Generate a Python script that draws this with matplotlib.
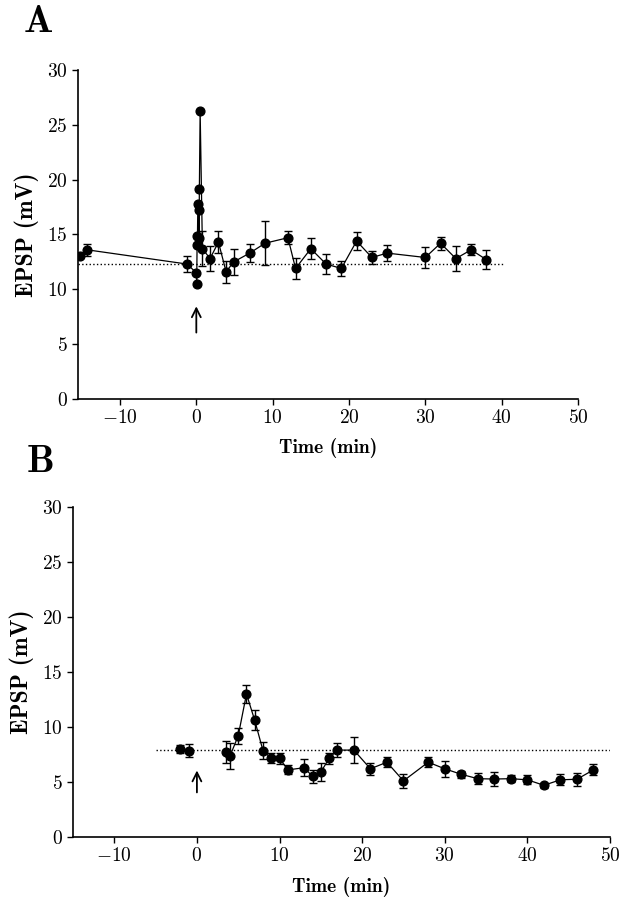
import matplotlib

matplotlib.use("Agg")
import matplotlib.pyplot as plt

plt.rcParams["font.family"] = ["cmr10", "DejaVu Serif"]
plt.rcParams["mathtext.fontset"] = "cm"
plt.rcParams["axes.formatter.use_mathtext"] = True
plt.rcParams["axes.unicode_minus"] = True

# Panel A: EPSP amplitude, time in min
a_time = [-15.3, -14.3, -1.2, 0.0, 0.05, 0.1, 0.15, 0.2, 0.3, 0.35, 0.4, 0.5, 0.8,
          1.8, 2.9, 3.9, 4.9, 7.0, 9.0, 12.0, 13.0, 15.0, 17.0, 19.0, 21.0, 23.0,
          25.0, 30.0, 32.0, 34.0, 36.0, 38.0]
a_epsp = [13.0, 13.6, 12.3, 11.5, 10.5, 14.0, 14.9, 17.8, 17.2, 14.7, 19.1, 26.3, 13.7,
          12.8, 14.3, 11.6, 12.5, 13.3, 14.2, 14.7, 11.9, 13.7, 12.3, 11.9, 14.4, 12.9,
          13.3, 12.9, 14.2, 12.8, 13.6, 12.7]
a_err = [0.0, 0.55, 0.7, 0.0, 0.0, 0.0, 0.0, 0.0, 0.0, 0.0, 0.0, 0.0, 1.6,
         1.15, 1.0, 1.0, 1.2, 0.85, 2.0, 0.6, 0.95, 0.95, 0.9, 0.65, 0.85, 0.55,
         0.7, 1.0, 0.6, 1.15, 0.5, 0.85]
a_baseline = 12.3

# Panel B
b_pre_time = [-2.0, -1.0]
b_pre_epsp = [8.0, 7.85]
b_pre_err = [0.4, 0.6]
b_time = [3.5, 4.0, 5.0, 6.0, 7.0, 8.0, 9.0, 10.0, 11.0, 13.0, 14.0, 15.0, 16.0,
          17.0, 19.0, 21.0, 23.0, 25.0, 28.0, 30.0, 32.0, 34.0, 36.0, 38.0, 40.0,
          42.0, 44.0, 46.0, 48.0]
b_epsp = [7.7, 7.35, 9.2, 13.0, 10.6, 7.85, 7.15, 7.15, 6.1, 6.3, 5.5, 5.9, 7.15,
          7.9, 7.9, 6.2, 6.8, 5.1, 6.8, 6.2, 5.7, 5.3, 5.27, 5.3, 5.2,
          4.7, 5.2, 5.25, 6.1]
b_err = [1.0, 1.2, 0.75, 0.8, 0.9, 0.75, 0.45, 0.5, 0.4, 0.8, 0.55, 0.8, 0.5,
         0.65, 1.2, 0.55, 0.45, 0.65, 0.45, 0.75, 0.3, 0.5, 0.65, 0.3, 0.4,
         0.25, 0.5, 0.6, 0.5]
b_baseline = 7.9

XTICKS = [-10, 0, 10, 20, 30, 40, 50]
YTICKS = [0, 5, 10, 15, 20, 25, 30]
BOLD = ["cmb10", "DejaVu Serif"]


def series(ax, t, y, err):
    ax.errorbar(t, y, yerr=err, fmt="-o", color="black", ms=6.3, lw=0.9,
                elinewidth=1.0, capsize=2.8, capthick=1.0, zorder=3)


def style(ax, xlim):
    ax.set_xlim(*xlim)
    ax.set_ylim(0, 30)
    ax.set_xticks(XTICKS)
    ax.set_yticks(YTICKS)
    ax.spines["top"].set_visible(False)
    ax.spines["right"].set_visible(False)
    for s in ("left", "bottom"):
        ax.spines[s].set_linewidth(1.2)
    ax.tick_params(direction="out", length=4, width=1, labelsize=14)
    ax.set_xlabel("Time (min)", fontsize=14, family=BOLD, labelpad=8)
    ax.set_ylabel("EPSP (mV)", fontsize=17, family=BOLD, labelpad=6)


def arrow(ax, y0, y1):
    ax.annotate("", xy=(0, y1), xytext=(0, y0),
                arrowprops=dict(arrowstyle="->", color="black", lw=1.3,
                                mutation_scale=16))


fig = plt.figure(figsize=(6.26, 9.0), dpi=100)

ax_a = fig.add_axes([0.1246, 0.5567, 0.7987, 0.3656])
ax_a.plot([-15.5, 40.3], [a_baseline, a_baseline], ls=":", color="black", lw=1.0)
series(ax_a, a_time, a_epsp, a_err)
arrow(ax_a, 5.8, 8.7)
style(ax_a, (-15.5, 50))

ax_b = fig.add_axes([0.1166, 0.07, 0.8578, 0.3667])
ax_b.plot([-5.0, 50.0], [b_baseline, b_baseline], ls=":", color="black", lw=1.0)
series(ax_b, b_pre_time, b_pre_epsp, b_pre_err)
series(ax_b, b_time, b_epsp, b_err)
arrow(ax_b, 3.8, 6.3)
style(ax_b, (-15, 50))

fig.text(38 / 626, 1 - 22 / 900, "A", fontsize=28, family=BOLD,
         ha="center", va="center")
fig.text(40 / 626, 1 - 462 / 900, "B", fontsize=28, family=BOLD,
         ha="center", va="center")

fig.savefig("out.png", dpi=100)
